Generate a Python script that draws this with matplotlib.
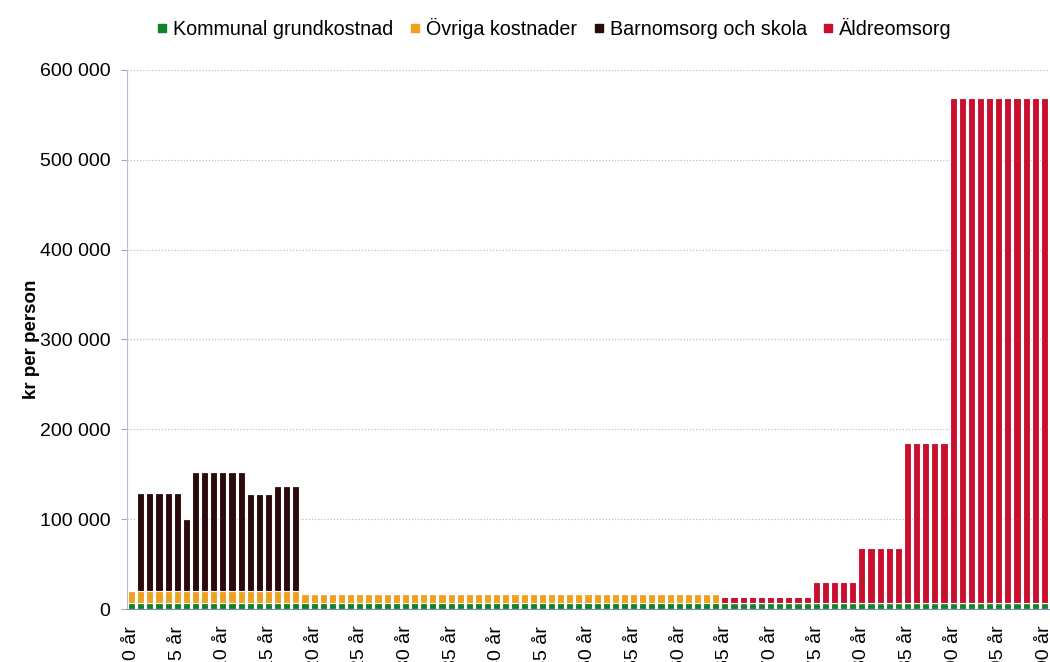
import matplotlib.pyplot as plt
from matplotlib.lines import Line2D
import numpy as np

plt.rcParams['font.family'] = ['Liberation Sans', 'DejaVu Sans']

ages = list(range(101))
tick_ages = list(range(0, 101, 5))
tick_labels = ['%d år' % a for a in tick_ages]

# kr per person
grundkostnad = [7000] * 101
ovriga = [13000] * 19 + [10000] * 46 + [0] * 36
barnomsorg = [0] + [109000] * 5 + [80000] + [133000] * 6 + [108000] * 3 + [117000] * 3 + [0] * 82
aldreomsorg = [0] * 65 + [6500] * 10 + [23000] * 5 + [61000] * 5 + [178000] * 5 + [562000] * 11

series_names = ['Kommunal grundkostnad', 'Övriga kostnader', 'Barnomsorg och skola', 'Äldreomsorg']
colors = ['#13802a', '#f0a11c', '#2a0a0c', '#c8102e']

fig = plt.figure(figsize=(10.5, 6.62), dpi=100)
ax = fig.add_axes([127 / 1050, 1 - 609 / 662, 922 / 1050, (609 - 70) / 662])

bottom = np.zeros(len(ages))
for vals, c in zip([grundkostnad, ovriga, barnomsorg, aldreomsorg], colors):
    vals = np.array(vals, dtype=float)
    ax.bar(ages, vals, bottom=bottom, width=0.78, color=c, edgecolor='white', linewidth=0.8)
    bottom += vals

ax.set_xlim(-0.5, 100.5)
ax.set_ylim(0, 600000)
ax.set_yticks(range(0, 600001, 100000))
ax.set_yticklabels(['0'] + ['%d 000' % (v // 1000) for v in range(100000, 600001, 100000)], fontsize=14)
ax.set_xticks(tick_ages)
ax.set_xticklabels(tick_labels, rotation=90, fontsize=14, va='top', ha='center')
ax.tick_params(axis='x', length=0, pad=12)
ax.tick_params(axis='y', length=4, color='#9aa8c4', pad=8)

ax.grid(axis='y', linestyle=(0, (1, 1.5)), color='#b4c0d8', linewidth=0.9)
ax.set_axisbelow(True)
for s in ['top', 'right']:
    ax.spines[s].set_visible(False)
ax.spines['left'].set_color('#b4c0d8')
ax.spines['bottom'].set_color('#7f8fb0')

ax.set_ylabel('kr per person', fontsize=13.5, fontweight='bold', labelpad=0)

handles = [Line2D([], [], marker='s', linestyle='none', markersize=6, color=c) for c in colors]
fig.legend(handles, series_names, loc='upper center', bbox_to_anchor=(0.526, 1.0), ncol=4,
           frameon=False, fontsize=14.2, handletextpad=0.05, columnspacing=0.6, handlelength=1.0)

fig.savefig('out.png', dpi=100)
